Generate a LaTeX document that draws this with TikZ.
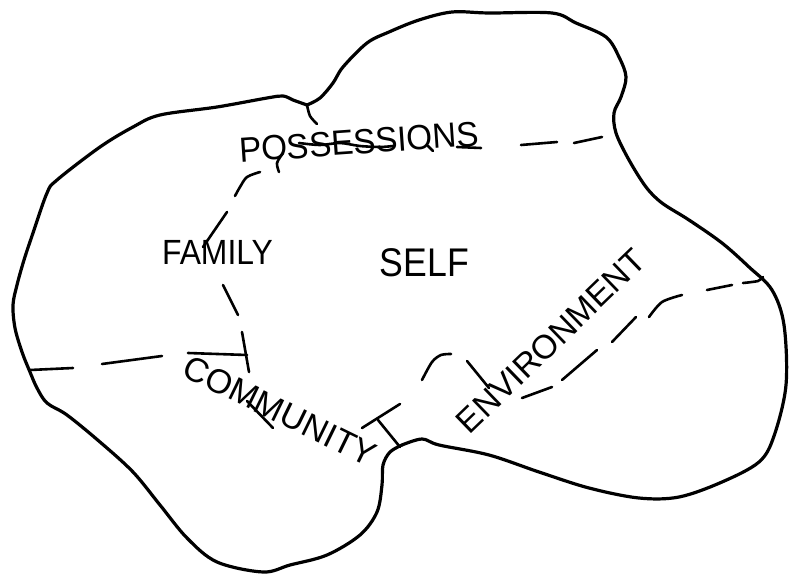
\documentclass[tikz,border=0pt]{standalone}
\usepackage{fontspec}
\setmainfont{Liberation Sans}
\begin{document}
\begin{tikzpicture}[x=1pt,y=-1pt,
  outline/.style={line width=3.2pt, line join=round, line cap=round},
  bound/.style={line width=2.6pt, line cap=round, line join=round},
  lbl/.style={inner sep=0pt, outer sep=0pt}]
\useasboundingbox (0,0) rectangle (789,575);

% outer blob: right lobe (notch -> junction)
\draw[outline] plot[smooth, tension=0.55] coordinates {
  (307,105) (320,98) (333,83) (343,67) (367,43) (389,32) (419,20) (452,12)
  (489,13) (552,13) (576,23) (606,37) (619,57) (626,77) (621,97) (614,113)
  (616,133) (629,160) (646,187) (662,203) (689,220) (722,243) (749,267)
  (772,290) (784,325) (786,385) (774,436) (759,462) (722,482) (679,497)
  (639,498) (589,488) (539,472) (489,455) (439,445) (422,439) (402,445)};
% outer blob: left lobe (junction -> notch)
\draw[outline] plot[smooth, tension=0.55] coordinates {
  (402,445) (390,452) (383,465) (382,485) (377,512) (360,535) (327,555)
  (290,565) (263,572) (217,562) (187,538) (160,505) (133,472) (100,442)
  (67,415) (47,403) (37,388) (30,372) (22,352) (15,328) (13,305) (17,285)
  (24,260) (33,233) (47,193) (57,180) (100,147) (133,127) (160,115)
  (217,107) (267,98) (283,96) (293,100) (307,105)};

% family / possessions boundary
\draw[bound] plot[smooth] coordinates {(307,105) (310,116) (317,124)};
\draw[bound] plot[smooth] coordinates {(299,143) (320,145) (340,143) (360,146) (380,147) (393,146)};
\draw[bound] plot[smooth] coordinates {(283,153) (277,163) (279,172)};
\draw[bound] plot[smooth] coordinates {(260,172) (247,177) (240,187) (235,196)};
\draw[bound] (227,212) -- (203,247);
\draw[bound] (223,285) -- (238,315);
\draw[bound] (242,332) -- (249,372);
\draw[bound] (188,353) -- (247,355);
% left dashed line
\draw[bound] (30,370) -- (73,368);
\draw[bound] (102,364) -- (162,356);
% community strike and T
\draw[bound] (247,401) -- (273,428);
\draw[bound] (362,428) -- (400,404);
\draw[bound] (378,420) -- (400,447);
% top right dashes
\draw[bound] (521,145) -- (557,142);
\draw[bound] (574,143) -- (602,137);
\draw[bound] (457,147) -- (481,148);
\draw[bound] (428,146) -- (433,151);
% environment boundary
\draw[bound] plot[smooth] coordinates {(422,380) (432,362) (441,355) (451,354)};
\draw[bound] (467,361) -- (489,388);
\draw[bound] (522,398) -- (552,387);
\draw[bound] (562,380) -- (597,350);
\draw[bound] (612,342) -- (636,317);
\draw[bound] plot[smooth] coordinates {(649,317) (662,302) (682,295)};
\draw[bound] (707,290) -- (732,285);
\draw[bound] plot[smooth] coordinates {(743,283) (758,281) (763,277)};

% labels
\node[lbl, rotate=4, xscale=0.95, font=\fontsize{35}{40}\selectfont] (poss) at (359,142) {POSSESSIONS};
\node[lbl, xscale=0.91, font=\fontsize{35}{40}\selectfont] (family) at (217.5,252.5) {FAMILY};
\node[lbl, xscale=0.89, font=\fontsize{40}{46}\selectfont] (self) at (424.5,262.5) {SELF};
\node[lbl, rotate=-26, font=\fontsize{34}{38}\selectfont] (community) at (280,411) {COMMUNITY};
\node[lbl, rotate=44, font=\fontsize{33.5}{38}\selectfont] (environment) at (551,341) {ENVIRONMENT};
\end{tikzpicture}
\end{document}
